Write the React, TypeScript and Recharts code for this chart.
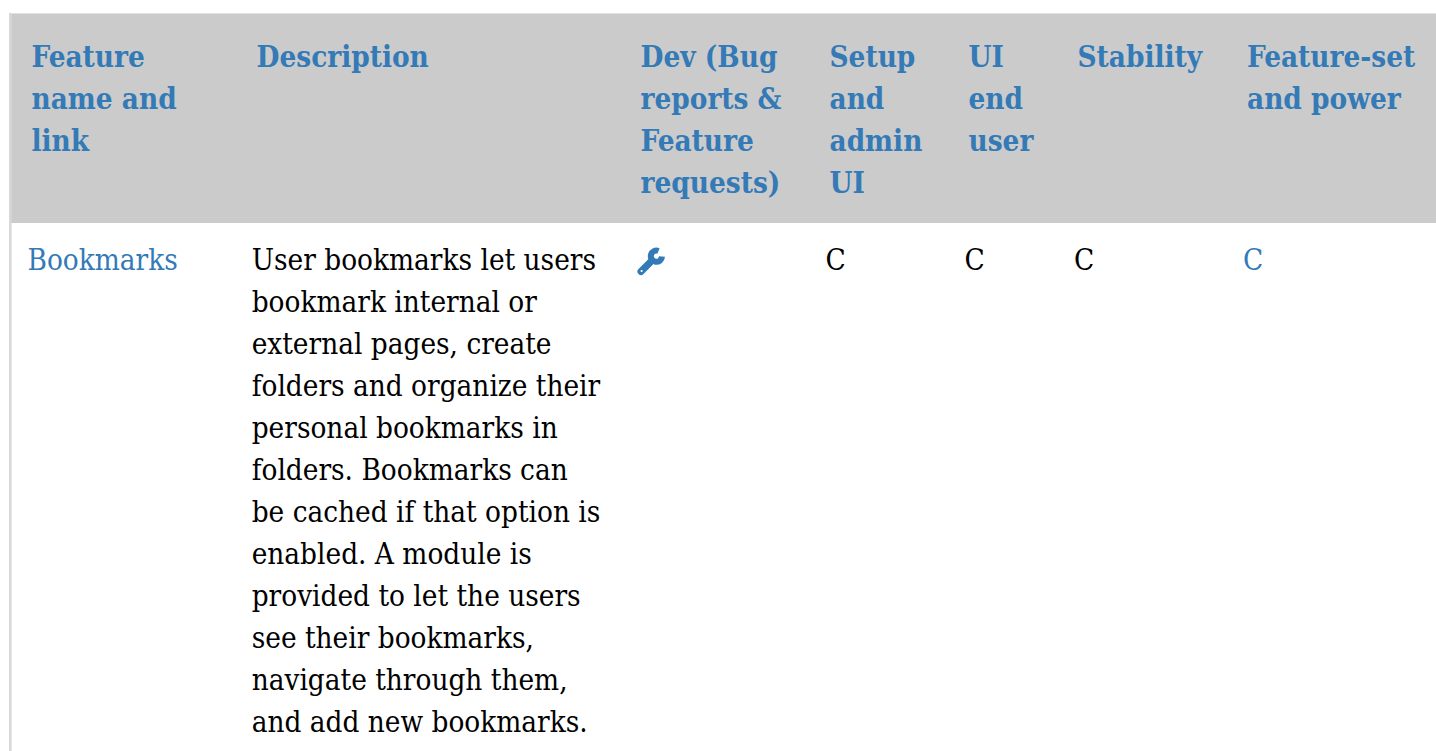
import React from 'react';
import { ScatterChart, Scatter, XAxis, YAxis, ReferenceArea, ReferenceLine } from 'recharts';

const WIDTH = 1436;
const HEIGHT = 751;
const BLUE = '#337ab7';
const FONT = '"DejaVu Serif", serif';

// table content, one list of lines per cell
const headerCells = [
  ['Feature', 'name and', 'link'],
  ['Description'],
  ['Dev (Bug', 'reports &', 'Feature', 'requests)'],
  ['Setup', 'and', 'admin', 'UI'],
  ['UI', 'end', 'user'],
  ['Stability'],
  ['Feature-set', 'and power'],
];

const featureName = ['Bookmarks'];
const descriptionLines = [
  'User bookmarks let users',
  'bookmark internal or',
  'external pages, create',
  'folders and organize their',
  'personal bookmarks in',
  'folders. Bookmarks can',
  'be cached if that option is',
  'enabled. A module is',
  'provided to let the users',
  'see their bookmarks,',
  'navigate through them,',
  'and add new bookmarks.',
];
const ratings = [['C'], ['C'], ['C'], ['C']];

const headerX = [31.5, 256.5, 640.5, 829.5, 968.5, 1077.5, 1247];
const bodyX = [27.5, 251.7, 637, 825.5, 964.5, 1074, 1243];
const HEADER_BASE = 67;
const BODY_BASE = 270;
const LINE = 42;

type Cell = { x: number; y: number; text: string; bold?: boolean; link?: boolean };

const toCells = (lines: string[], x: number, base: number, bold = false, link = false): Cell[] =>
  lines.map((text, i) => ({ x, y: base + i * LINE, text, bold, link }));

const textCells: Cell[] = [
  ...headerCells.flatMap((lines, i) => toCells(lines, headerX[i], HEADER_BASE, true, true)),
  ...toCells(featureName, bodyX[0], BODY_BASE, false, true),
  ...toCells(descriptionLines, bodyX[1], BODY_BASE),
  ...ratings.flatMap((lines, i) => toCells(lines, bodyX[i + 3], BODY_BASE, false, i === 3)),
];

const iconCells = [{ x: bodyX[2], y: BODY_BASE }];

const CellText = (props: any) => {
  const { cx, cy, payload } = props;
  return (
    <text
      x={cx}
      y={cy}
      fontFamily={FONT}
      fontSize={29.4}
      fontWeight={payload.bold ? 700 : 400}
      fill={payload.link ? BLUE : '#000'}
      style={{ fontStretch: 'condensed' }}
    >
      {payload.text}
    </text>
  );
};

// wrench glyph, drawn relative to the cell's point
const Wrench = (props: any) => {
  const { cx, cy } = props;
  return (
    <g transform={`translate(${cx} ${cy})`} fill="none" stroke={BLUE}>
      <path d="M21.5 -19 A5.6 5.6 0 1 0 25 -13.5" strokeWidth={6} />
      <path d="M14 -8.5 L4 1.5" strokeWidth={7} strokeLinecap="round" />
      <circle cx={4.6} cy={1} r={1.1} fill="#fff" stroke="none" />
    </g>
  );
};

const App = () => {
  return (
    <div style={{ position: 'absolute', left: 0, top: 0 }}>
      <ScatterChart width={WIDTH} height={HEIGHT} margin={{ top: 0, right: 0, bottom: 0, left: 0 }}>
        <XAxis type="number" dataKey="x" domain={[0, WIDTH]} hide />
        <YAxis type="number" dataKey="y" domain={[0, HEIGHT]} reversed hide />
        <ReferenceArea x1={9} x2={WIDTH} y1={13} y2={14} fill="#e2e2e2" fillOpacity={1} stroke="none" />
        <ReferenceLine segment={[{ x: 10.3, y: 13 }, { x: 10.3, y: HEIGHT }]} stroke="#d8d8d8" strokeWidth={2.6} />
        <ReferenceArea x1={10} x2={WIDTH} y1={14} y2={223} fill="#cbcbcb" fillOpacity={1} stroke="none" />
        <Scatter data={textCells} shape={CellText} isAnimationActive={false} />
        <Scatter data={iconCells} shape={Wrench} isAnimationActive={false} />
      </ScatterChart>
    </div>
  );
};

export default App;
